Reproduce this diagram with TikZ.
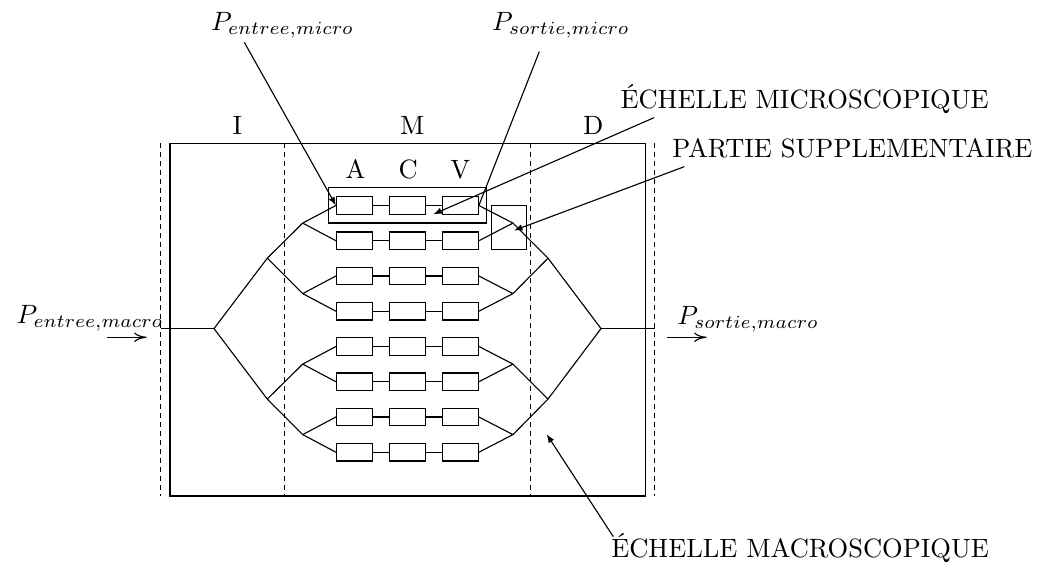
\documentclass[tikz,border=0pt]{standalone}
\usetikzlibrary{arrows.meta}
\newcommand{\bigtxt}[1]{\scalebox{1.06}{#1}}
\begin{document}
\begin{tikzpicture}[x=0.4pt,y=-0.4pt, line width=0.45pt,
  cell/.style={draw, minimum width=14.4pt, minimum height=7pt, inner sep=0pt},
  divider/.style={dash pattern=on 2pt off 1.6pt, line width=0.4pt},
  leader/.style={-{Latex[length=3.4pt,width=2.6pt]}},
  flow/.style={-{To[length=5pt,width=3.8pt]}},
  lbl/.style={inner sep=0pt, anchor=base west},
  zone/.style={inner sep=0pt, anchor=base}]
\useasboundingbox (0,0) rectangle (1049,564);
% outer frame and zone dividers
\draw[line width=0.55pt] (170,143.5) rectangle (645.5,496);
\foreach \x in {160.5,284.3,530.7,654.5} \draw[divider] (\x,143.5) -- (\x,496);
% zone labels
\node[zone] (zI) at (237.3,135) {\bigtxt{I}};
\node[zone] (zM) at (412.3,135) {\bigtxt{M}};
\node[zone] (zD) at (593.3,135) {\bigtxt{D}};
\node[zone] (cA) at (355.5,178.3) {\bigtxt{A}};
\node[zone] (cC) at (408.3,178.3) {\bigtxt{C}};
\node[zone] (cV) at (460.3,178.3) {\bigtxt{V}};
% micro chains
\foreach \y [count=\r] in {205.5,240.75,276,311.25,346.5,381.75,417,452.25} {
  \node[cell] (b\r1) at (354.5,\y) {};
  \node[cell] (b\r2) at (407.3,\y) {};
  \node[cell] (b\r3) at (460.3,\y) {};
  \draw (b\r1) -- (b\r2) (b\r2) -- (b\r3);
}
% tree coordinates
\coordinate (inL) at (160.5,328.6);
\coordinate (r0L) at (214,328.6);
\coordinate (r1L) at (267.3,258.2);
\coordinate (r2L) at (267.3,399.1);
\coordinate (s1L) at (302.7,223.1);
\coordinate (s2L) at (302.7,293.6);
\coordinate (s3L) at (302.7,364.1);
\coordinate (s4L) at (302.7,434.6);
\coordinate (outR) at (654.5,328.6);
\coordinate (r0R) at (601,328.6);
\coordinate (r1R) at (548,258.2);
\coordinate (r2R) at (548,399.1);
\coordinate (s1R) at (513,223.1);
\coordinate (s2R) at (513,293.6);
\coordinate (s3R) at (513,364.1);
\coordinate (s4R) at (513,434.6);
% left tree
\draw (inL) -- (r0L);
\draw (r0L) -- (r1L) (r0L) -- (r2L);
\draw (r1L) -- (s1L) (r1L) -- (s2L) (r2L) -- (s3L) (r2L) -- (s4L);
\foreach \s/\a/\b in {1/1/2,2/3/4,3/5/6,4/7/8} {
  \draw (s\s L) -- (b\a1.west) (s\s L) -- (b\b1.west);
  \draw (s\s R) -- (b\a3.east) (s\s R) -- (b\b3.east);
}
% right tree
\draw (outR) -- (r0R);
\draw (r0R) -- (r1R) (r0R) -- (r2R);
\draw (r1R) -- (s1R) (r1R) -- (s2R) (r2R) -- (s3R) (r2R) -- (s4R);
% micro frame and extra part
\node[draw, inner sep=0pt, minimum width=63.4pt, minimum height=14.1pt] (microframe) at (407.5,205.4) {};
\node[draw, inner sep=0pt, minimum width=14.1pt, minimum height=17.5pt] (extra) at (509,227.2) {};
% labels
\node[lbl] (pem) at (210.5,31) {\bigtxt{$P_{entree,micro}$}};
\node[lbl] (psm) at (491.5,31) {\bigtxt{$P_{sortie,micro}$}};
\node[lbl] (emic) at (620,108.5) {\bigtxt{\'ECHELLE MICROSCOPIQUE}};
\node[lbl] (psup) at (671.7,158) {\bigtxt{PARTIE SUPPLEMENTAIRE}};
\node[lbl] (emac) at (610.7,558) {\bigtxt{\'ECHELLE MACROSCOPIQUE}};
\node[lbl] (pEM) at (16,323.3) {\bigtxt{$P_{entree,macro}$}};
\node[lbl] (pSM) at (676.7,324.3) {\bigtxt{$P_{sortie,macro}$}};
% leader lines
\coordinate (pemS) at (244.3,42.3);
\coordinate (psmS) at (539.3,51.7);
\coordinate (emicS) at (654,117.7);
\coordinate (emicT) at (433.3,214.3);
\coordinate (psupS) at (684.3,166.7);
\coordinate (psupT) at (514,230.5);
\coordinate (emacS) at (613.3,536.7);
\coordinate (emacT) at (546.7,434.3);
\draw[leader] (pemS) -- (b11.west);
\draw (psmS) -- (b13.east);
\draw[leader] (emicS) -- (emicT);
\draw[leader] (psupS) -- (psupT);
\draw[leader] (emacS) -- (emacT);
% flow arrows
\coordinate (fiS) at (107.3,337.3);
\coordinate (fiE) at (146.7,337.3);
\coordinate (foS) at (667.3,337.3);
\coordinate (foE) at (706.7,337.3);
\draw[flow] (fiS) -- (fiE);
\draw[flow] (foS) -- (foE);
\end{tikzpicture}
\end{document}
